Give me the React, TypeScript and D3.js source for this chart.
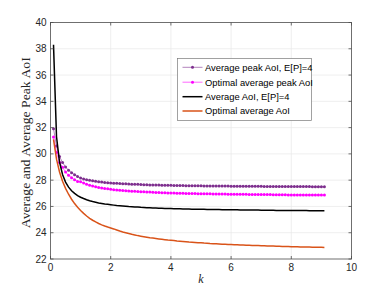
import * as d3 from "d3";

// k grid (step 0.1 from 0.1 to 9.1)
const kValues = d3.range(1, 92).map((i) => +(i / 10).toFixed(1));

const avgPeakAoI = [
  31.92, 30.6, 29.8, 29.35, 29.0, 28.76, 28.57, 28.42, 28.28, 28.16,
  28.09, 28.04, 27.99, 27.95, 27.91, 27.88, 27.86, 27.83, 27.81, 27.79,
  27.77, 27.76, 27.74, 27.73, 27.72, 27.7, 27.69, 27.68, 27.68, 27.67,
  27.66, 27.65, 27.64, 27.64, 27.63, 27.63, 27.62, 27.61, 27.61, 27.61,
  27.6, 27.6, 27.59, 27.59, 27.58, 27.58, 27.58, 27.57, 27.57, 27.57,
  27.56, 27.56, 27.56, 27.56, 27.55, 27.55, 27.55, 27.55, 27.55, 27.54,
  27.54, 27.54, 27.54, 27.54, 27.53, 27.53, 27.53, 27.53, 27.53, 27.53,
  27.52, 27.52, 27.52, 27.52, 27.52, 27.52, 27.52, 27.51, 27.51, 27.51,
  27.51, 27.51, 27.51, 27.51, 27.51, 27.51, 27.5, 27.5, 27.5, 27.5, 27.5,
];

const optPeakAoI = [
  31.29, 30.1, 29.35, 28.98, 28.62, 28.37, 28.18, 28.03, 27.9, 27.88,
  27.78, 27.69, 27.62, 27.55, 27.5, 27.45, 27.41, 27.37, 27.34, 27.31,
  27.28, 27.26, 27.24, 27.22, 27.2, 27.18, 27.16, 27.15, 27.13, 27.12,
  27.11, 27.1, 27.09, 27.08, 27.07, 27.06, 27.05, 27.04, 27.03, 27.03,
  27.02, 27.01, 27.01, 27.0, 26.99, 26.99, 26.98, 26.98, 26.97, 26.97,
  26.96, 26.96, 26.96, 26.95, 26.95, 26.94, 26.94, 26.94, 26.93, 26.93,
  26.93, 26.92, 26.92, 26.92, 26.92, 26.91, 26.91, 26.91, 26.91, 26.9,
  26.9, 26.9, 26.9, 26.89, 26.89, 26.89, 26.89, 26.89, 26.88, 26.88,
  26.88, 26.88, 26.88, 26.88, 26.87, 26.87, 26.87, 26.87, 26.87, 26.87, 26.87,
];

const avgAoI = [
  38.3, 31.3, 29.38, 28.43, 27.85, 27.47, 27.19, 26.99, 26.83, 26.7,
  26.6, 26.51, 26.43, 26.37, 26.32, 26.27, 26.23, 26.19, 26.16, 26.13,
  26.1, 26.07, 26.05, 26.03, 26.01, 25.99, 25.98, 25.96, 25.95, 25.93,
  25.92, 25.91, 25.9, 25.89, 25.88, 25.87, 25.86, 25.85, 25.84, 25.84,
  25.83, 25.82, 25.82, 25.81, 25.81, 25.8, 25.79, 25.79, 25.78, 25.78,
  25.78, 25.77, 25.77, 25.76, 25.76, 25.76, 25.75, 25.75, 25.74, 25.74,
  25.74, 25.74, 25.73, 25.73, 25.73, 25.72, 25.72, 25.72, 25.72, 25.71,
  25.71, 25.71, 25.71, 25.71, 25.7, 25.7, 25.7, 25.7, 25.7, 25.69,
  25.69, 25.69, 25.69, 25.69, 25.69, 25.68, 25.68, 25.68, 25.68, 25.68, 25.68,
];

const optAoI = [
  31.1, 29.6, 28.62, 27.92, 27.38, 26.93, 26.55, 26.22, 25.94, 25.69,
  25.47, 25.27, 25.1, 24.95, 24.82, 24.7, 24.6, 24.51, 24.43, 24.36,
  24.29, 24.21, 24.13, 24.06, 24.0, 23.94, 23.88, 23.83, 23.78, 23.74,
  23.7, 23.66, 23.62, 23.59, 23.56, 23.53, 23.5, 23.47, 23.44, 23.42,
  23.4, 23.37, 23.35, 23.33, 23.31, 23.29, 23.28, 23.26, 23.24, 23.23,
  23.21, 23.2, 23.18, 23.17, 23.16, 23.15, 23.13, 23.12, 23.11, 23.1,
  23.09, 23.08, 23.07, 23.06, 23.05, 23.04, 23.03, 23.02, 23.02, 23.01,
  23.0, 22.99, 22.99, 22.98, 22.97, 22.97, 22.96, 22.95, 22.95, 22.94,
  22.93, 22.93, 22.92, 22.92, 22.91, 22.91, 22.9, 22.9, 22.89, 22.89, 22.88,
];

const xTicks = [0, 2, 4, 6, 8, 10];
const yTicks = [22, 24, 26, 28, 30, 32, 34, 36, 38, 40];

const series = [
  { name: "Average peak AoI, E[P]=4", values: avgPeakAoI, color: "#7E2F8E", width: 0.6, marker: true },
  { name: "Optimal average peak AoI", values: optPeakAoI, color: "#FF00FF", width: 0.6, marker: true },
  { name: "Average AoI, E[P]=4", values: avgAoI, color: "#000000", width: 1.5, marker: false },
  { name: "Optimal average AoI", values: optAoI, color: "#D95319", width: 1.5, marker: false },
];

const W = 388;
const H = 291;
const left = 50.5;
const right = 351.5;
const top = 22.5;
const bottom = 259;

export default function App() {
  const x = d3.scaleLinear().domain([0, 10]).range([left, right]);
  const y = d3.scaleLinear().domain([22, 40]).range([bottom, top]);
  const tickFont = "'Liberation Sans', Arial, sans-serif";
  const axisColor = "#4d4d4d";

  const lineGen = (vals: number[]) =>
    d3
      .line<number>()
      .x((_, i) => x(kValues[i]))
      .y((d) => y(d))(vals) ?? "";

  const legX = 177.5;
  const legY = 58.5;
  const legRows = [67.3, 82.2, 96.7, 111];

  return (
    <svg
      width={W}
      height={H}
      style={{ position: "absolute", left: 0, top: 0, background: "#fff" }}
    >
      <rect x={0} y={0} width={W} height={H} fill="#fff" />
      {/* grid */}
      <g stroke="#e8e8e8" strokeWidth={0.7}>
        {xTicks.slice(1, -1).map((t) => (
          <line key={"gx" + t} x1={x(t)} x2={x(t)} y1={top} y2={bottom} />
        ))}
        {yTicks.slice(1, -1).map((t) => (
          <line key={"gy" + t} x1={left} x2={right} y1={y(t)} y2={y(t)} />
        ))}
      </g>
      {/* series */}
      {series.map((s) => (
        <g key={s.name}>
          <path d={lineGen(s.values)} fill="none" stroke={s.color} strokeWidth={s.width} />
          {s.marker &&
            s.values.map((v, i) => (
              <circle
                key={i}
                cx={x(kValues[i])}
                cy={y(v)}
                r={1.5}
                fill={s.color}
              />
            ))}
        </g>
      ))}
      {/* axes box */}
      <rect
        x={left}
        y={top}
        width={right - left}
        height={bottom - top}
        fill="none"
        stroke={axisColor}
        strokeWidth={0.8}
      />
      <g stroke={axisColor} strokeWidth={0.8}>
        {xTicks.map((t) => (
          <g key={"tx" + t}>
            <line x1={x(t)} x2={x(t)} y1={bottom} y2={bottom - 3} />
            <line x1={x(t)} x2={x(t)} y1={top} y2={top + 3} />
          </g>
        ))}
        {yTicks.map((t) => (
          <g key={"ty" + t}>
            <line x1={left} x2={left + 3} y1={y(t)} y2={y(t)} />
            <line x1={right} x2={right - 3} y1={y(t)} y2={y(t)} />
          </g>
        ))}
      </g>
      <g fontFamily={tickFont} fontSize={10} fill="#262626">
        {xTicks.map((t) => (
          <text key={"lx" + t} x={x(t)} y={271} textAnchor="middle">
            {t}
          </text>
        ))}
        {yTicks.map((t) => (
          <text key={"ly" + t} x={left - 4} y={y(t) + 3.5} textAnchor="end">
            {t}
          </text>
        ))}
      </g>
      <text
        x={0}
        y={0}
        transform={`translate(30, ${(top + bottom) / 2 + 2}) rotate(-90)`}
        textAnchor="middle"
        fontFamily="'Liberation Serif', 'DejaVu Serif', serif"
        fontSize={13}
        textLength={171}
        lengthAdjust="spacingAndGlyphs"
        fill="#262626"
      >
        Average and Average Peak AoI
      </text>
      <text
        x={(left + right) / 2}
        y={283}
        textAnchor="middle"
        fontFamily="'Liberation Serif', serif"
        fontStyle="italic"
        fontSize={12}
        fill="#262626"
      >
        k
      </text>
      {/* legend */}
      <rect
        x={legX}
        y={legY}
        width={134}
        height={62}
        fill="#fff"
        stroke="#7a7a7a"
        strokeWidth={0.7}
      />
      {series.map((s, i) => (
        <g key={"leg" + s.name}>
          <line
            x1={182.5}
            x2={202.5}
            y1={legRows[i]}
            y2={legRows[i]}
            stroke={s.color}
            strokeWidth={s.width}
          />
          {s.marker && <circle cx={192.5} cy={legRows[i]} r={1.5} fill={s.color} />}
          <text
            x={205}
            y={legRows[i] + 3.3}
            fontFamily={tickFont}
            fontSize={9.4}
            fill="#000"
          >
            {s.name}
          </text>
        </g>
      ))}
    </svg>
  );
}
